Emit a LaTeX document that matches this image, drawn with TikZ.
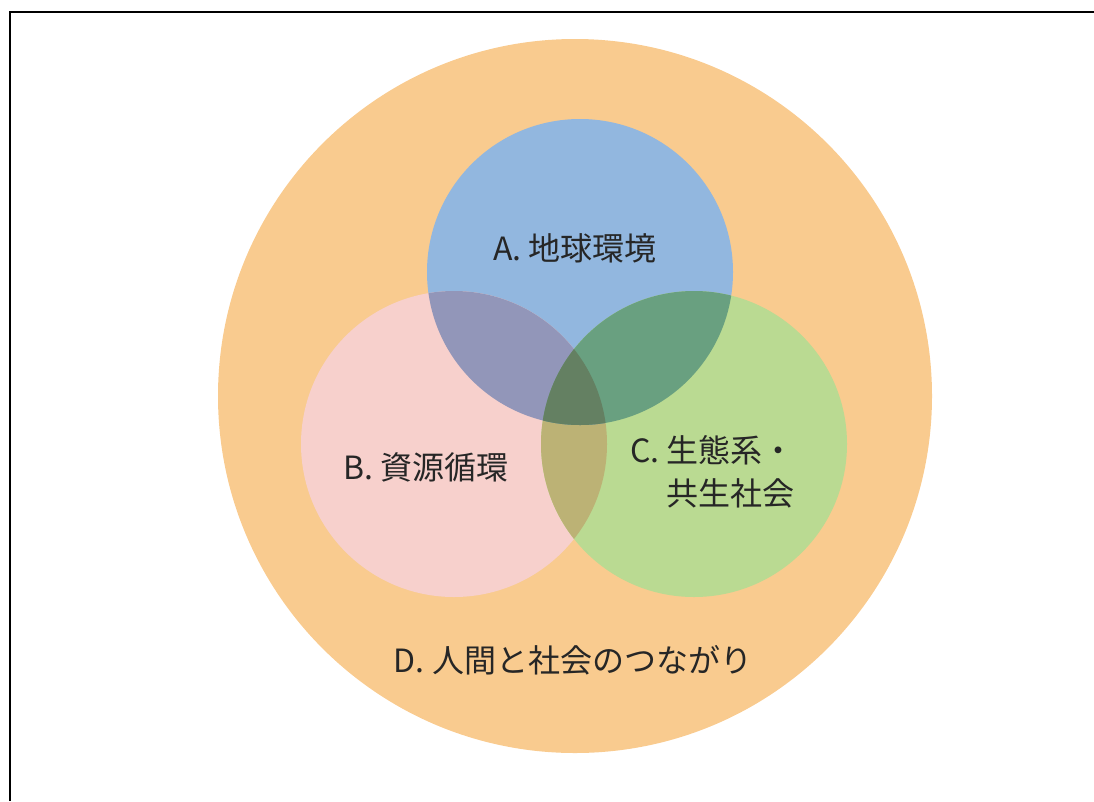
\documentclass[tikz,border=0pt]{standalone}
\usepackage{fontspec}
\setmainfont{Noto Sans CJK JP}
\usetikzlibrary{positioning}

\definecolor{orangeD}{RGB}{249,203,143}
\definecolor{blueA}{RGB}{146,183,223}
\definecolor{pinkB}{RGB}{247,208,204}
\definecolor{greenC}{RGB}{186,218,146}
\definecolor{mixAB}{RGB}{146,150,185}
\definecolor{mixAC}{RGB}{105,160,128}
\definecolor{mixBC}{RGB}{188,178,117}
\definecolor{mixABC}{RGB}{100,128,98}

\begin{document}
\begin{tikzpicture}[x=1pt,y=-1pt,
    lbl/.style={font=\fontsize{32}{43}\selectfont, text=black!85, inner sep=0pt}]
  \useasboundingbox (0,0) rectangle (1094,801);
  \draw[line width=2.2pt] (10,801) |- (1094,12);

  \coordinate (cD) at (575,396);
  \coordinate (cA) at (580,272);
  \coordinate (cB) at (454,444);
  \coordinate (cC) at (694,444);
  \def\rD{357}
  \def\rS{153}

  % circles
  \fill[orangeD] (cD) circle (\rD);
  \fill[blueA] (cA) circle (\rS);
  \fill[pinkB] (cB) circle (\rS);
  \fill[greenC] (cC) circle (\rS);

  % overlaps
  \begin{scope}
    \clip (cB) circle (\rS);
    \fill[mixBC] (cC) circle (\rS);
  \end{scope}
  \begin{scope}
    \clip (cA) circle (\rS);
    \fill[mixAB] (cB) circle (\rS);
    \fill[mixAC] (cC) circle (\rS);
    \clip (cB) circle (\rS);
    \fill[mixABC] (cC) circle (\rS);
  \end{scope}

  \node[lbl] (labA) at (575,248) {A. 地球環境};
  \node[lbl] (labB) at (426,467) {B. 資源循環};
  \node[lbl, align=right, anchor=east] (labC) at (795,472) {C. 生態系・\\共生社会};
  \node[lbl] (labD) at (573,660) {D. 人間と社会のつながり};
\end{tikzpicture}
\end{document}
